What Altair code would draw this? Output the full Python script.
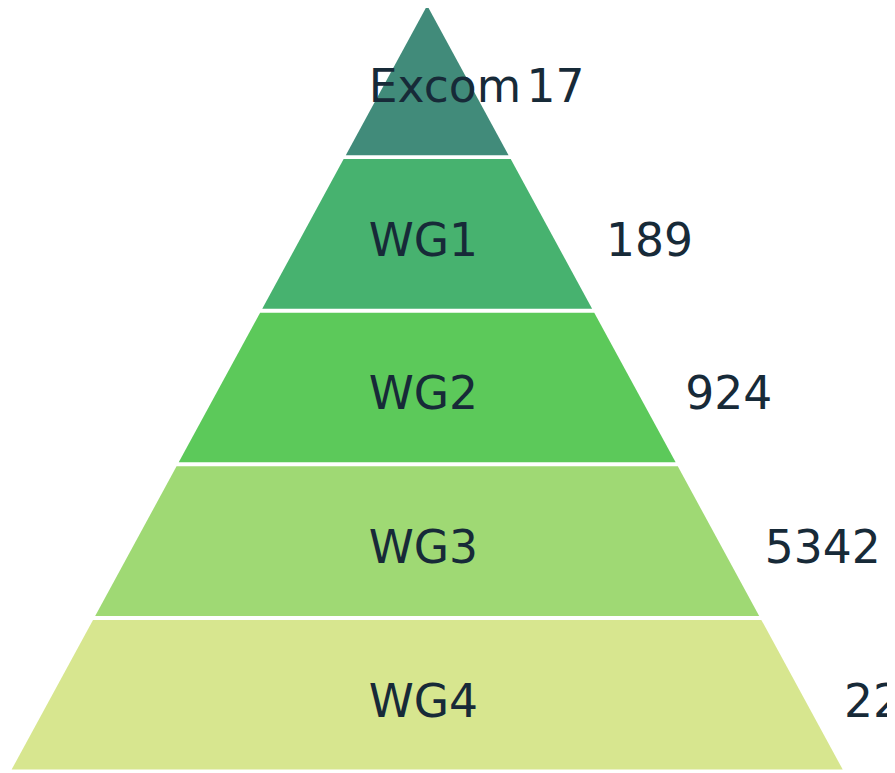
import altair as alt
import pandas as pd

# ---- data ----
levels = ["Excom", "WG1", "WG2", "WG3", "WG4"]
values = [17, 189, 924, 5342, 22480]
colors = ["#418b7a", "#47b26f", "#5cc95a", "#9fd974", "#d7e68f"]

# ---- layout constants (pyramid geometry in level units) ----
GAP = 4 / 155            # white gap between tiers, in tier units
X_UNIT_PX = 84.3         # pixels per x unit (half-width grows 1 unit per tier)
Y_UNIT_PX = 155          # pixels per tier
W, H = 887, 765
APEX_X = 423             # apex horizontal pixel in the plot
TOP_SHIFT = 6            # apex sits a little above the visible top

rows = []
for i, lv in enumerate(levels):
    for y in (i, i + 1 - GAP):
        rows.append({"level": lv, "y": y, "xl": -y, "xr": y})
shape_df = pd.DataFrame(rows)

label_df = pd.DataFrame({
    "level": levels,
    "value": [str(v) for v in values],
    "yc": [i + (1 - GAP) / 2 for i in range(len(levels))],
    "xn": [-59 / X_UNIT_PX] * len(levels),
    "xv": [1.19 + 0.95 * i for i in range(len(levels))],
})

y0 = TOP_SHIFT / Y_UNIT_PX
x_scale = alt.Scale(domain=[-APEX_X / X_UNIT_PX, (W - APEX_X) / X_UNIT_PX], nice=False, zero=False)
y_scale = alt.Scale(domain=[y0, y0 + H / Y_UNIT_PX], reverse=True, nice=False, zero=False)

area = alt.Chart(shape_df).mark_area(orient="horizontal").encode(
    y=alt.Y("y:Q", scale=y_scale, axis=None),
    x=alt.X("xl:Q", scale=x_scale, axis=None, stack=None),
    x2="xr:Q",
    color=alt.Color("level:N", scale=alt.Scale(domain=levels, range=colors), legend=None),
)

text_style = dict(font="DejaVu Sans", fontSize=46, color="#172a38", baseline="middle", dy=8, align="left")

names = alt.Chart(label_df).mark_text(**text_style).encode(
    x=alt.X("xn:Q", scale=x_scale, axis=None),
    y=alt.Y("yc:Q", scale=y_scale, axis=None),
    text="level:N",
)

vals = alt.Chart(label_df).mark_text(**text_style).encode(
    x=alt.X("xv:Q", scale=x_scale, axis=None),
    y=alt.Y("yc:Q", scale=y_scale, axis=None),
    text="value:N",
)

chart = alt.layer(area, names, vals).properties(
    width=W, height=H,
    autosize=alt.AutoSizeParams(type="none"),
    padding=0,
).configure_view(stroke=None)

chart.save("out.html", embed_options={"renderer": "svg", "actions": False})
